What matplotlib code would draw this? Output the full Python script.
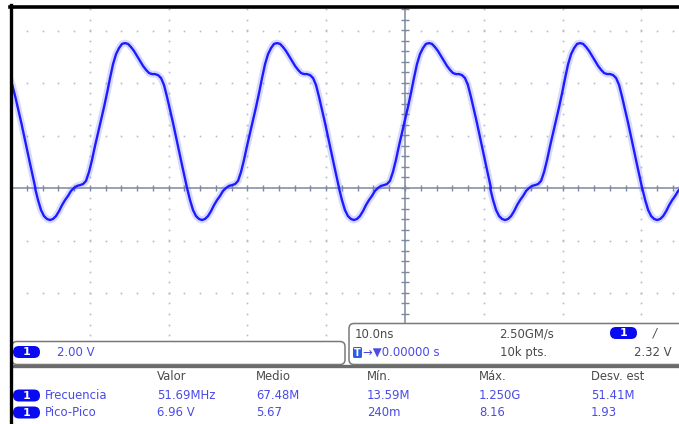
import matplotlib
matplotlib.use("Agg")
import matplotlib.pyplot as plt
from matplotlib.patches import FancyBboxPatch, Rectangle
import numpy as np

# one period of the channel 1 trace, starting at a falling zero crossing
# (time in ns from that crossing, level in V from screen centre)
period_t = [0.00, 0.38, 0.76, 1.14, 1.52, 1.90, 2.28, 2.66, 3.05, 3.43,
            3.81, 4.19, 4.57, 4.95, 5.33, 5.71, 6.09, 6.47, 6.85, 7.23,
            7.61, 8.00, 8.38, 8.76, 9.14, 9.52, 9.90, 10.28, 10.66, 11.04,
            11.42, 11.80, 12.18, 12.56, 12.94, 13.32, 13.71, 14.09, 14.47,
            14.85, 15.23, 15.61, 15.99, 16.37, 16.75, 17.13, 17.51, 17.89,
            18.27, 18.65, 19.04, 19.29]
period_v = [0.00, -0.46, -0.84, -1.07, -1.18, -1.22, -1.18, -1.07, -0.88,
            -0.65, -0.46, -0.30, -0.11, 0.00, 0.08, 0.11, 0.15, 0.27, 0.61,
            1.07, 1.60, 2.10, 2.59, 3.09, 3.62, 4.19, 4.72, 5.10, 5.33, 5.49,
            5.52, 5.49, 5.37, 5.22, 5.03, 4.84, 4.65, 4.50, 4.38, 4.34, 4.34,
            4.30, 4.19, 3.92, 3.47, 2.97, 2.48, 1.94, 1.41, 0.88, 0.34, 0.00]
# falling zero crossings of each cycle on screen (ns)
cycle_starts = [-66.2, -46.95, -27.66, -8.38, 10.80, 30.10]

# status / measurement readouts
scale_label = "2.00 V"
timebase = "10.0ns"
sample_rate = "2.50GM/s"
trig_delay = "0.00000 s"
record_len = "10k pts."
trig_level = "2.32 V"
meas_headers = ["Valor", "Medio", "Mín.", "Máx.", "Desv. est"]
meas_names = ["Frecuencia", "Pico-Pico"]
meas_rows = [["51.69MHz", "67.48M", "13.59M", "1.250G", "51.41M"],
             ["6.96 V", "5.67", "240m", "8.16", "1.93"]]

W, H = 679, 424
NS_DIV, V_DIV = 10.0, 2.0
PX_DIV_X, PX_DIV_Y = 78.8, 52.5
X0, Y0 = 405, 188          # screen centre in pixels
TOP, BOT, LEFT = 8, 341, 12

trace_col = "#1c1cff"
grid_col = "#b3bace"
axis_col = "#7d899f"
txt_blue = "#4a4ae6"
txt_gray = "#4a4a4a"
pill_col = "#0a0af0"

fig = plt.figure(figsize=(W / 100, H / 100), dpi=100)

# ---- graticule + trace
ax = fig.add_axes([LEFT / W, (H - BOT) / H, (W - LEFT) / W, (BOT - TOP) / H])
ax.set_xlim((LEFT - X0) / PX_DIV_X * NS_DIV, (W - X0) / PX_DIV_X * NS_DIV)
ax.set_ylim((Y0 - BOT) / PX_DIV_Y * V_DIV, (Y0 - TOP) / PX_DIV_Y * V_DIV)
ax.axis("off")

minor_t = np.arange(-50, 36, NS_DIV / 5)
minor_v = np.arange(-6, 7.01, V_DIV / 5)
for t in [-40, -30, -20, -10, 10, 20, 30]:
    ax.plot(np.full_like(minor_v, t), minor_v, ls="none", marker="s",
            ms=1.2, mec="none", color=grid_col)
for v in [-6, -4, -2, 2, 4, 6]:
    ax.plot(minor_t, np.full_like(minor_t, v), ls="none", marker="s",
            ms=1.2, mec="none", color=grid_col)

# centre axes with minor ticks
ax.axvline(0, color=axis_col, lw=1.1)
ax.axhline(0, color=axis_col, lw=1.1)
ax.plot(np.zeros_like(minor_v), minor_v, ls="none", marker="_", ms=6,
        mew=1.0, color=axis_col)
ax.plot(minor_t, np.zeros_like(minor_t), ls="none", marker="|", ms=5,
        mew=1.0, color=axis_col)

tt, vv = [], []
for s in cycle_starts:
    tt.extend(s + np.array(period_t))
    vv.extend(period_v)
ax.plot(tt, vv, color="#6a6aff", lw=5.0, alpha=0.25,
        solid_joinstyle="round", solid_capstyle="round")
ax.plot(tt, vv, color=trace_col, lw=1.7,
        solid_joinstyle="round", solid_capstyle="round")

# ---- frame, status boxes and measurement table (pixel coords)
ov = fig.add_axes([0, 0, 1, 1])
ov.set_xlim(0, W)
ov.set_ylim(H, 0)
ov.axis("off")
ov.patch.set_alpha(0)

ov.add_patch(Rectangle((12, 366), W, H, fc="white", ec="none"))
ov.add_patch(FancyBboxPatch((12, 341.5), 333, 23,
                            boxstyle="round,pad=0,rounding_size=5",
                            fc="white", ec="#7a7a7a", lw=1.1))
ov.add_patch(FancyBboxPatch((349, 323.5), 345, 41,
                            boxstyle="round,pad=0,rounding_size=5",
                            fc="white", ec="#7a7a7a", lw=1.1))
ov.plot([12, W], [365.8, 365.8], color="#6b6b6b", lw=2.4)

ov.plot([11.3, 11.3], [5, H], color="black", lw=2.4)
ov.plot([10, W], [6.6, 6.6], color="black", lw=2.6)

fam = ["DejaVu Sans"]
fs = 8.4


def pill(x, y):
    ov.add_patch(FancyBboxPatch((x, y - 6), 27, 12,
                                boxstyle="round,pad=0,rounding_size=6",
                                fc=pill_col, ec="none"))
    ov.text(x + 13.5, y + 0.3, "1", color="white", fontsize=8,
            fontweight="bold", ha="center", va="center", family=fam)


pill(13, 352)
ov.text(57, 352.5, scale_label, color=txt_blue, fontsize=fs, va="center",
        family=fam)

ov.text(355, 334, timebase, color=txt_gray, fontsize=fs, va="center",
        family=fam)
ov.text(499, 334, sample_rate, color=txt_gray, fontsize=fs, va="center",
        family=fam)
pill(610, 333)
ov.text(655, 333, "/", color=txt_gray, fontsize=fs, va="center",
        ha="center", family=fam, style="italic")

ov.add_patch(FancyBboxPatch((353, 347), 9, 11,
                            boxstyle="round,pad=0,rounding_size=1.5",
                            fc="#2a5ee8", ec="none"))
ov.text(357.5, 352.8, "T", color="white", fontsize=7, fontweight="bold",
        ha="center", va="center", family=fam)
ov.text(363, 352.5, "→▼" + trig_delay, color=txt_blue, fontsize=fs,
        va="center", family=fam)
ov.text(500, 352.5, record_len, color=txt_gray, fontsize=fs, va="center",
        family=fam)
ov.text(672, 352.5, trig_level, color=txt_gray, fontsize=fs, va="center",
        ha="right", family=fam)

col_x = [157, 256, 367, 479, 591]
for x, h in zip(col_x, meas_headers):
    ov.text(x, 377, h, color=txt_gray, fontsize=fs, va="center", family=fam)
for row_y, name, vals in zip([395.5, 412.5], meas_names, meas_rows):
    pill(13, row_y)
    ov.text(45, row_y, name, color=txt_blue, fontsize=fs, va="center",
            family=fam)
    for x, val in zip(col_x, vals):
        ov.text(x, row_y, val, color=txt_blue, fontsize=fs, va="center",
                family=fam)

fig.savefig("out.png", dpi=100, facecolor="white")
